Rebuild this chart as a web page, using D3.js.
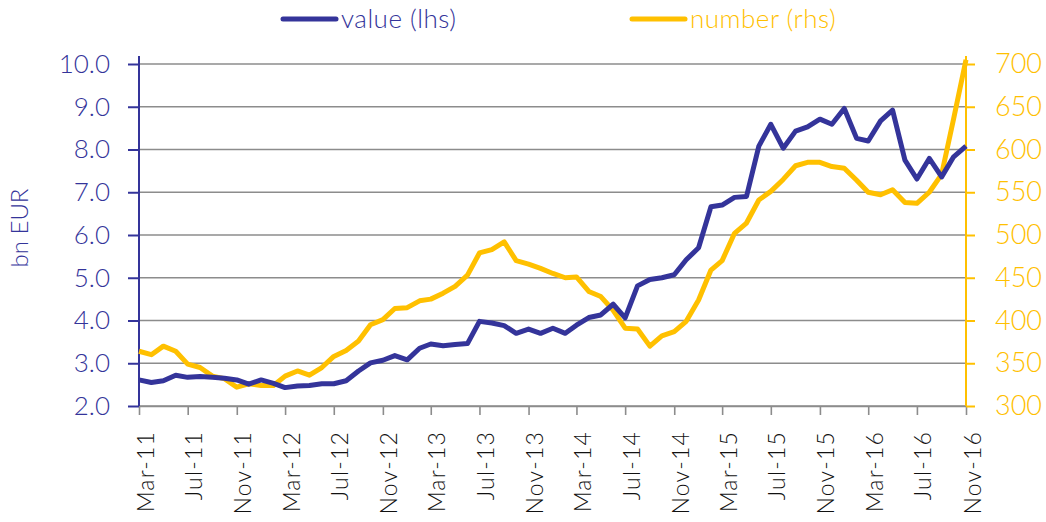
<!DOCTYPE html>
<html>
<head>
<meta charset="utf-8">
<script src="https://cdn.jsdelivr.net/npm/d3@7"></script>
<style>
  body { margin: 0; background: #fff; }
  text { font-family: Lato, "Noto Sans", sans-serif; font-weight: 300; }
</style>
</head>
<body>
<div id="chart"></div>
<script>
// monthly data, Mar-11 .. Nov-16
var valueLhs = [2.61, 2.55, 2.59, 2.72, 2.67, 2.69, 2.67, 2.65, 2.61, 2.51,
  2.61, 2.53, 2.43, 2.47, 2.48, 2.52, 2.52, 2.59, 2.82, 3.01,
  3.07, 3.18, 3.08, 3.35, 3.45, 3.41, 3.44, 3.46, 3.98, 3.94,
  3.88, 3.70, 3.80, 3.70, 3.82, 3.70, 3.89, 4.07, 4.13, 4.38,
  4.06, 4.81, 4.96, 5.00, 5.07, 5.42, 5.70, 6.66, 6.70, 6.88,
  6.90, 8.08, 8.59, 8.03, 8.43, 8.53, 8.71, 8.59, 8.96, 8.26,
  8.20, 8.67, 8.92, 7.75, 7.31, 7.79, 7.36, 7.83, 8.08];

var numberRhs = [364, 360, 370, 364, 349, 345, 335, 332, 322, 326,
  324, 324, 335, 341, 336, 345, 358, 365, 376, 395,
  401, 414, 415, 423, 425, 432, 440, 453, 479, 483,
  492, 470, 466, 461, 455, 450, 451, 434, 428, 412,
  391, 390, 370, 382, 387, 399, 424, 459, 470, 502,
  514, 541, 551, 565, 581, 585, 585, 580, 578, 564,
  550, 547, 553, 538, 537, 550, 571, 636, 705];

var leftTicks = [2, 3, 4, 5, 6, 7, 8, 9, 10];
var rightTicks = [300, 350, 400, 450, 500, 550, 600, 650, 700];

var months = d3.timeMonth.range(new Date(2011, 2, 1), new Date(2016, 11, 1));

var svgWidth = 1046;
var svgHeight = 522;
var margin = { top: 64, right: 80, bottom: 116, left: 139 };
var width = svgWidth - margin.left - margin.right;
var height = svgHeight - margin.top - margin.bottom;

var blue = "#34349a";
var gold = "#ffc000";
var grid = "#8c8c8c";

var svg = d3.select("#chart")
  .append("svg")
  .attr("width", svgWidth)
  .attr("height", svgHeight);

var chartGroup = svg.append("g")
  .attr("transform", `translate(${margin.left}, ${margin.top})`);

var x = d3.scaleTime()
  .domain([months[0], months[months.length - 1]])
  .range([0, width]);

var yLeft = d3.scaleLinear().domain([2, 10]).range([height, 0]);
var yRight = d3.scaleLinear().domain([300, 700]).range([height, 0]);

// gridlines
chartGroup.append("g")
  .selectAll("line")
  .data(leftTicks)
  .enter()
  .append("line")
  .attr("x1", 0)
  .attr("x2", width)
  .attr("y1", d => yLeft(d))
  .attr("y2", d => yLeft(d))
  .attr("stroke", grid)
  .attr("stroke-width", 1.6);

// x axis
var bottomAxis = d3.axisBottom(x)
  .tickValues(months.filter((d, i) => i % 4 === 0))
  .tickFormat(d3.timeFormat("%b-%y"))
  .tickSize(9)
  .tickSizeOuter(0);

var xAxis = chartGroup.append("g")
  .attr("transform", `translate(0, ${height})`)
  .call(bottomAxis);

xAxis.select(".domain").attr("stroke", grid).attr("stroke-width", 1.6);
xAxis.selectAll(".tick line").attr("stroke", grid).attr("stroke-width", 1.6);
xAxis.selectAll("text")
  .attr("transform", "rotate(-90)")
  .attr("x", -25)
  .attr("y", 6)
  .attr("dy", "0.35em")
  .style("text-anchor", "end")
  .style("font-size", "23px")
  .style("letter-spacing", "1.2px")
  .attr("fill", "#111");

// left axis
var leftAxis = d3.axisLeft(yLeft)
  .tickValues(leftTicks)
  .tickFormat(d3.format(".1f"))
  .tickSize(11)
  .tickSizeOuter(0)
  .tickPadding(18);

var yAxisL = chartGroup.append("g").call(leftAxis);
yAxisL.select(".domain").remove();
yAxisL.selectAll(".tick line").attr("stroke", blue).attr("stroke-width", 2);
yAxisL.selectAll("text").attr("fill", blue).style("font-size", "26px");
yAxisL.append("line")
  .attr("x1", 0).attr("x2", 0)
  .attr("y1", -8).attr("y2", height)
  .attr("stroke", blue).attr("stroke-width", 2);

// right axis
var rightAxis = d3.axisRight(yRight)
  .tickValues(rightTicks)
  .tickSize(9)
  .tickSizeOuter(0)
  .tickPadding(20);

var yAxisR = chartGroup.append("g")
  .attr("transform", `translate(${width}, 0)`)
  .call(rightAxis);
yAxisR.select(".domain").remove();
yAxisR.selectAll(".tick line").attr("stroke", gold).attr("stroke-width", 2);
yAxisR.selectAll("text").attr("fill", gold).style("font-size", "27px");
yAxisR.append("line")
  .attr("x1", 0).attr("x2", 0)
  .attr("y1", -8).attr("y2", height)
  .attr("stroke", gold).attr("stroke-width", 2);

// y axis title
chartGroup.append("text")
  .attr("transform", "rotate(-90)")
  .attr("x", -(228 - margin.top))
  .attr("y", -margin.left + 28)
  .style("text-anchor", "middle")
  .style("font-size", "24px")
  .attr("fill", blue)
  .text("bn EUR");

// lines
var valueLine = d3.line()
  .x((d, i) => x(months[i]))
  .y(d => yLeft(d));

var numberLine = d3.line()
  .x((d, i) => x(months[i]))
  .y(d => yRight(d));

chartGroup.append("path")
  .datum(numberRhs)
  .attr("d", numberLine)
  .attr("fill", "none")
  .attr("stroke", gold)
  .attr("stroke-width", 5)
  .attr("stroke-linejoin", "round");

chartGroup.append("path")
  .datum(valueLhs)
  .attr("d", valueLine)
  .attr("fill", "none")
  .attr("stroke", blue)
  .attr("stroke-width", 5)
  .attr("stroke-linejoin", "round");

// legend
var legend = [
  { label: "value (lhs)", color: blue, x: 283 },
  { label: "number (rhs)", color: gold, x: 632 }
];

var legendGroup = svg.append("g");
legendGroup.selectAll("line")
  .data(legend)
  .enter()
  .append("line")
  .attr("x1", d => d.x)
  .attr("x2", d => d.x + 53)
  .attr("y1", 19)
  .attr("y2", 19)
  .attr("stroke", d => d.color)
  .attr("stroke-width", 5)
  .attr("stroke-linecap", "round");

legendGroup.selectAll("text")
  .data(legend)
  .enter()
  .append("text")
  .attr("x", d => d.x + 58)
  .attr("y", 28)
  .style("font-size", "26px")
  .style("letter-spacing", "0.5px")
  .attr("fill", d => d.color)
  .text(d => d.label);
</script>
</body>
</html>
